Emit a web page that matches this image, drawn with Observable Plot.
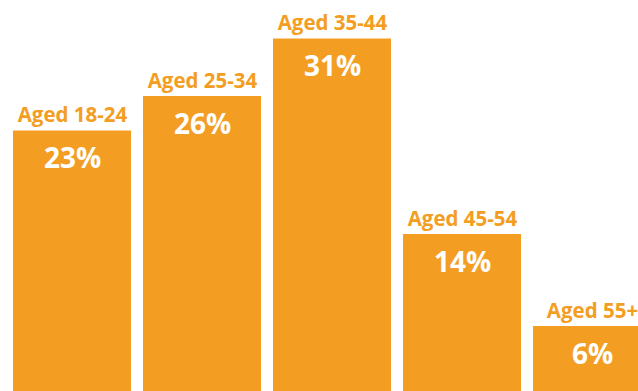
<!DOCTYPE html>
<html>
<head>
<meta charset="utf-8">
<script src="https://cdn.jsdelivr.net/npm/d3@7"></script>
<script src="https://cdn.jsdelivr.net/npm/@observablehq/plot@0.6"></script>
<style>
  html, body { margin: 0; padding: 0; background: #fff; overflow: hidden; }
  #wrap { width: 638px; height: 391px; overflow: hidden; position: relative; }
  #wrap svg { overflow: hidden; }
</style>
</head>
<body>
<div id="wrap"></div>
<script>
const categories = ["Aged 18-24", "Aged 25-34", "Aged 35-44", "Aged 45-54", "Aged 55+"];
const values = [23, 26, 31, 14, 6];
const valueLabels = ["23%", "26%", "31%", "14%", "6%"];

const data = categories.map((c, i) => ({category: c, value: values[i], label: valueLabels[i]}));
const orange = "#F39E22";

const chart = Plot.plot({
  width: 638,
  height: 391,
  marginTop: 0, marginBottom: 0, marginLeft: 0, marginRight: 0,
  x: {domain: categories, range: [12, 652], paddingInner: 0.0958, paddingOuter: 0, axis: null},
  y: {domain: [0, 31], range: [395, 38.5], axis: null},
  marks: [
    Plot.barY(data, {x: "category", y: "value", fill: orange}),
    Plot.text(data, {x: "category", y: "value", text: "category", lineAnchor: "bottom", dy: -9,
      fill: orange, fontSize: 20.5, fontWeight: 700, fontFamily: "Open Sans"}),
    Plot.text(data, {x: "category", y: "value", text: "label", lineAnchor: "bottom", dy: 37,
      fill: "white", fontSize: 28, fontWeight: 700, fontFamily: "Open Sans"})
  ]
});
document.getElementById("wrap").appendChild(chart);
</script>
</body>
</html>
